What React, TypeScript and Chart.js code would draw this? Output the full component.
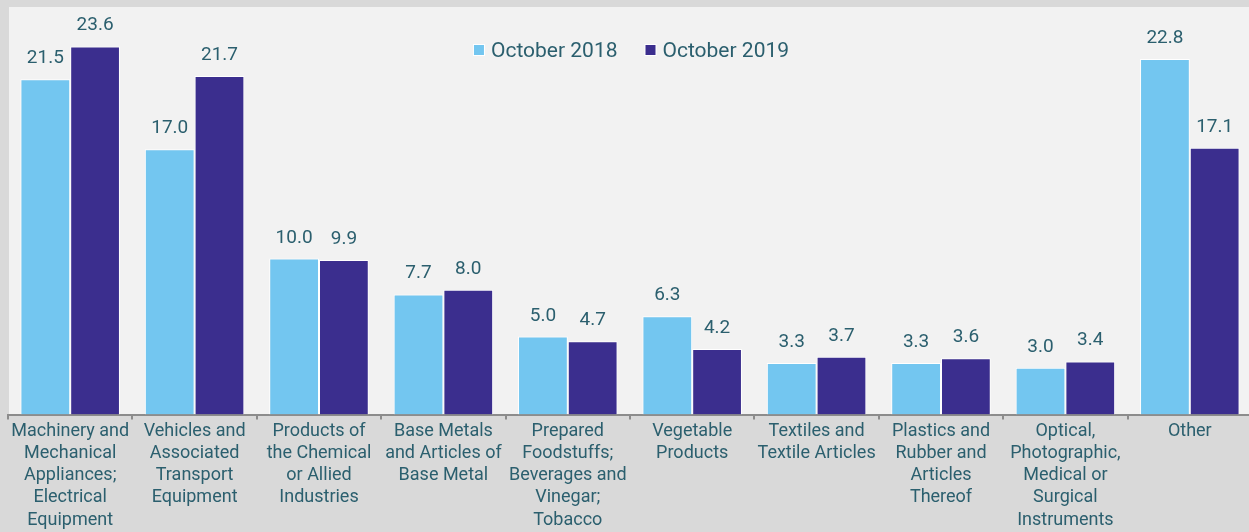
import React, { useEffect, useRef } from "react";
import { Chart, registerables } from "chart.js";

Chart.register(...registerables);

const categories: string[][] = [
  ["Machinery and", "Mechanical", "Appliances;", "Electrical", "Equipment"],
  ["Vehicles and", "Associated", "Transport", "Equipment"],
  ["Products of", "the Chemical", "or Allied", "Industries"],
  ["Base Metals", "and Articles of", "Base Metal"],
  ["Prepared", "Foodstuffs;", "Beverages and", "Vinegar;", "Tobacco"],
  ["Vegetable", "Products"],
  ["Textiles and", "Textile Articles"],
  ["Plastics and", "Rubber and", "Articles", "Thereof"],
  ["Optical,", "Photographic,", "Medical or", "Surgical", "Instruments"],
  ["Other"],
];

const oct2018: number[] = [21.5, 17.0, 10.0, 7.7, 5.0, 6.3, 3.3, 3.3, 3.0, 22.8];
const oct2019: number[] = [23.6, 21.7, 9.9, 8.0, 4.7, 4.2, 3.7, 3.6, 3.4, 17.1];

const seriesLabels: string[] = ["October 2018", "October 2019"];

const TEXT = "#2b5f6e";
const FONT = "Roboto";

const backgroundPlugin = {
  id: "bgPlugin",
  beforeDraw(chart: any) {
    const { ctx, width, height, chartArea } = chart;
    ctx.save();
    ctx.fillStyle = "#d9d9d9";
    ctx.fillRect(0, 0, width, height);
    ctx.fillStyle = "#f2f2f2";
    ctx.fillRect(9, 7, width - 9, chartArea.bottom - 7);
    ctx.restore();
  },
};

const valueLabelPlugin = {
  id: "valueLabels",
  afterDatasetsDraw(chart: any) {
    const { ctx } = chart;
    ctx.save();
    ctx.fillStyle = TEXT;
    ctx.font = `19px ${FONT}`;
    ctx.textAlign = "center";
    ctx.textBaseline = "alphabetic";
    chart.data.datasets.forEach((ds: any, di: number) => {
      const meta = chart.getDatasetMeta(di);
      meta.data.forEach((bar: any, i: number) => {
        const v = ds.data[i] as number;
        ctx.fillText(v.toFixed(1), bar.x, bar.y - 16);
      });
    });
    ctx.restore();
  },
};

const legendPlugin = {
  id: "customLegend",
  afterDraw(chart: any) {
    const { ctx, chartArea } = chart;
    const box = 10;
    const boxGap = 7;
    const itemGap = 28;
    ctx.save();
    ctx.font = `21px ${FONT}`;
    const items = chart.data.datasets.map((ds: any) => ({
      label: ds.label as string,
      color: ds.backgroundColor as string,
      w: ctx.measureText(ds.label).width,
    }));
    const total =
      items.reduce((s: number, it: any) => s + box + boxGap + it.w, 0) +
      itemGap * (items.length - 1);
    let x = (chartArea.left + chartArea.right) / 2 + 1.5 - total / 2;
    const boxTop = chartArea.top + 36;
    const baseline = chartArea.top + 48;
    items.forEach((it: any) => {
      ctx.fillStyle = "#ffffff";
      ctx.fillRect(x - 1, boxTop - 1, box + 2, box + 2);
      ctx.fillStyle = it.color;
      ctx.fillRect(x, boxTop, box, box);
      ctx.fillStyle = TEXT;
      ctx.textAlign = "left";
      ctx.textBaseline = "alphabetic";
      ctx.fillText(it.label, x + box + boxGap, baseline);
      x += box + boxGap + it.w + itemGap;
    });
    ctx.restore();
  },
};

export default function App() {
  const ref = useRef<HTMLCanvasElement | null>(null);

  useEffect(() => {
    document.body.style.margin = "0";
    const canvas = ref.current;
    if (!canvas) return;
    const chart = new Chart(canvas, {
      type: "bar",
      data: {
        labels: categories,
        datasets: [
          {
            label: seriesLabels[0],
            data: oct2018,
            backgroundColor: "#73c6f0",
            borderColor: "#ffffff",
            borderWidth: 1,
          },
          {
            label: seriesLabels[1],
            data: oct2019,
            backgroundColor: "#3b2e8e",
            borderColor: "#ffffff",
            borderWidth: 1,
          },
        ],
      },
      options: {
        responsive: false,
        animation: false,
        devicePixelRatio: 1,
        layout: { padding: { left: 8, right: 0, top: 9, bottom: 0 } },
        datasets: {
          bar: { categoryPercentage: 0.8, barPercentage: 1 },
        },
        plugins: {
          legend: { display: false },
          tooltip: { enabled: false },
          title: { display: false },
        },
        scales: {
          x: {
            grid: {
              display: true,
              drawOnChartArea: false,
              drawTicks: true,
              tickLength: 5,
              color: "#8c8c8c",
              lineWidth: 2,
              offset: true,
            },
            border: { display: true, color: "#8c8c8c", width: 2 },
            ticks: {
              color: TEXT,
              font: { family: FONT, size: 18, lineHeight: 1.23 },
              padding: 1,
              maxRotation: 0,
              minRotation: 0,
              autoSkip: false,
            },
            afterFit(scale: any) {
              scale.height = 117.5;
            },
          },
          y: {
            display: false,
            min: 0,
            max: 26,
          },
        },
      },
      plugins: [backgroundPlugin, valueLabelPlugin, legendPlugin],
    } as any);
    return () => chart.destroy();
  }, []);

  return (
    <div
      style={{
        position: "fixed",
        left: 0,
        top: 0,
        width: 1249,
        height: 532,
        overflow: "hidden",
        background: "#d9d9d9",
      }}
    >
      <canvas ref={ref} width={1252} height={532} style={{ display: "block" }} />
    </div>
  );
}
